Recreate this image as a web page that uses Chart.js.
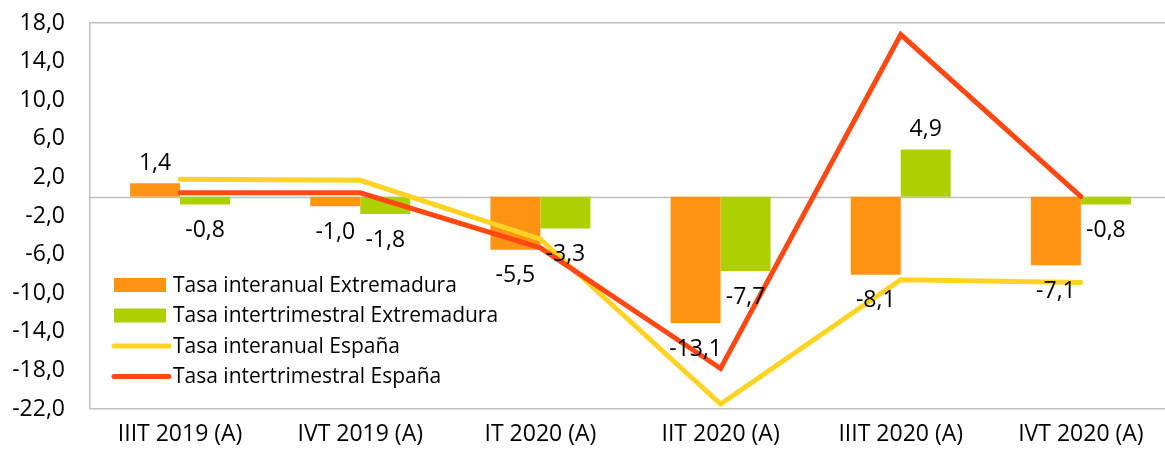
<!DOCTYPE html>
<html>
<head>
<meta charset="utf-8">
<script src="https://cdn.jsdelivr.net/npm/chart.js@4.4.1/dist/chart.umd.min.js"></script>
<style>
  html, body { margin: 0; padding: 0; background: #fff; overflow: hidden; }
  #wrap { width: 1165px; height: 457px; overflow: hidden; }
</style>
</head>
<body>
<div id="wrap"><canvas id="pib-chart"></canvas></div>
<script>
const categories = ['IIIT 2019 (A)', 'IVT 2019 (A)', 'IT 2020 (A)', 'IIT 2020 (A)', 'IIIT 2020 (A)', 'IVT 2020 (A)'];
const interanualExtremadura = [1.4, -1.0, -5.5, -13.1, -8.1, -7.1];
const intertrimestralExtremadura = [-0.8, -1.8, -3.3, -7.7, 4.9, -0.8];
const interanualEspana = [1.8, 1.7, -4.4, -21.5, -8.6, -8.9];
const intertrimestralEspana = [0.4, 0.4, -5.3, -17.8, 16.8, 0.0];
const yTicks = [18, 14, 10, 6, 2, -2, -6, -10, -14, -18, -22];

const FONT = '"Open Sans", sans-serif';
const GRID = '#bfbfbf';
const fmt = (v) => v.toFixed(1).replace('.', ',');

// zero line + bar value labels
const barLabels = {
  id: 'barLabels',
  beforeDatasetsDraw(chart) {
    const { ctx, chartArea, scales } = chart;
    const y0 = Math.round(scales.y.getPixelForValue(0)) + 0.5;
    ctx.save();
    ctx.strokeStyle = GRID;
    ctx.lineWidth = 1.5;
    ctx.beginPath();
    ctx.moveTo(chartArea.left, y0);
    ctx.lineTo(chartArea.right, y0);
    ctx.stroke();
    ctx.restore();
  },
  afterDatasetsDraw(chart) {
    const { ctx } = chart;
    ctx.save();
    ctx.font = '23px ' + FONT;
    ctx.fillStyle = '#000';
    ctx.textAlign = 'center';
    ctx.textBaseline = 'middle';
    chart.data.datasets.forEach((ds, i) => {
      if (ds.type !== 'bar') return;
      chart.getDatasetMeta(i).data.forEach((bar, j) => {
        const v = ds.data[j];
        const y = v >= 0 ? bar.y - 20 : bar.y + 26;
        ctx.fillText(fmt(v), bar.x, y);
      });
    });
    ctx.restore();
  }
};

// legend drawn inside the plot, bottom-left
const innerLegend = {
  id: 'innerLegend',
  afterDraw(chart) {
    const { ctx, chartArea } = chart;
    const x = chartArea.left + 24;
    let y = chartArea.top + 262;
    ctx.save();
    ctx.font = '21px ' + FONT;
    ctx.textBaseline = 'middle';
    ctx.textAlign = 'left';
    chart.data.datasets.forEach((ds) => {
      if (ds.type === 'bar') {
        ctx.fillStyle = ds.backgroundColor;
        ctx.fillRect(x, y - 7, 52, 14);
      } else {
        ctx.strokeStyle = ds.borderColor;
        ctx.lineWidth = 5;
        ctx.lineCap = 'round';
        ctx.beginPath();
        ctx.moveTo(x, y);
        ctx.lineTo(x + 55, y);
        ctx.stroke();
      }
      ctx.fillStyle = '#000';
      ctx.fillText(ds.label, x + 59, y + 1);
      y += 30.5;
    });
    ctx.restore();
  }
};

const canvas = document.getElementById('pib-chart');
canvas.style.width = '1180px';
canvas.style.height = '457px';
canvas.width = 1180;
canvas.height = 457;

new Chart(canvas.getContext('2d'), {
  data: {
    labels: categories,
    datasets: [
      {
        type: 'bar',
        label: 'Tasa interanual Extremadura',
        data: interanualExtremadura,
        backgroundColor: '#ff9412',
        categoryPercentage: 0.555,
        barPercentage: 1,
        order: 2,
      },
      {
        type: 'bar',
        label: 'Tasa intertrimestral Extremadura',
        data: intertrimestralExtremadura,
        backgroundColor: '#afd000',
        categoryPercentage: 0.555,
        barPercentage: 1,
        order: 3,
      },
      {
        type: 'line',
        label: 'Tasa interanual España',
        data: interanualEspana,
        borderColor: '#ffd324',
        borderWidth: 5,
        borderCapStyle: 'round',
        pointRadius: 0,
        tension: 0,
        order: 1,
      },
      {
        type: 'line',
        label: 'Tasa intertrimestral España',
        data: intertrimestralEspana,
        borderColor: '#ff4812',
        borderWidth: 5,
        borderCapStyle: 'round',
        pointRadius: 0,
        tension: 0,
        order: 0,
      },
    ],
  },
  options: {
    responsive: false,
    animation: false,
    layout: { padding: { top: 23, right: 9, bottom: 0, left: 0 } },
    plugins: {
      legend: { display: false },
      tooltip: { enabled: false },
    },
    scales: {
      x: {
        grid: { display: false },
        border: { display: false },
        ticks: { font: { family: FONT, size: 23 }, color: '#000', padding: 4, maxRotation: 0 },
        afterFit: (s) => { s.height = 48; },
      },
      y: {
        min: -22,
        max: 18,
        afterBuildTicks: (s) => { s.ticks = yTicks.map((v) => ({ value: v })); },
        grid: {
          drawTicks: false,
          lineWidth: 1.5,
          color: (c) => (c.tick && (c.tick.value === 18 || c.tick.value === -22) ? GRID : 'rgba(0,0,0,0)'),
        },
        border: { display: true, color: GRID, width: 1.5 },
        ticks: {
          font: { family: FONT, size: 23 },
          color: '#000',
          padding: 25,
          callback: (v) => fmt(v),
        },
        afterFit: (s) => {
          s.width = 90;
          s.paddingTop = 0;
          s.paddingBottom = 0;
        },
      },
    },
  },
  plugins: [barLabels, innerLegend],
});
</script>
</body>
</html>
